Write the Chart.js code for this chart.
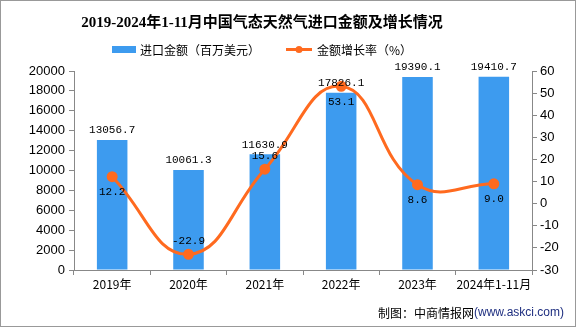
<!DOCTYPE html>
<html>
<head>
<meta charset="utf-8">
<script src="https://cdn.jsdelivr.net/npm/chart.js@4/dist/chart.umd.min.js"></script>
<style>
  html, body { margin: 0; padding: 0; background: #fff; }
  #wrap { position: relative; width: 576px; height: 327px; box-sizing: border-box; border: 1px solid #999; }
</style>
</head>
<body>
<div id="wrap"><canvas id="myChart" width="574" height="325"></canvas></div>
<script>
// Données
const categories = ["2019年", "2020年", "2021年", "2022年", "2023年", "2024年1-11月"];
const importValues = [13056.7, 10061.3, 11630.9, 17826.1, 19390.1, 19410.7];
const growthRates = [12.2, -22.9, 15.6, 53.1, 8.6, 9.0];
const leftTicks = [0, 2000, 4000, 6000, 8000, 10000, 12000, 14000, 16000, 18000, 20000];
const rightTicks = [-30, -20, -10, 0, 10, 20, 30, 40, 50, 60];

const title = "2019-2024年1-11月中国气态天然气进口金额及增长情况";
const barLabel = "进口金额（百万美元）";
const lineLabel = "金额增长率（%）";

const barColor = "#3d9bef";
const lineColor = "#ff6a1f";

// Titre, légende, étiquettes et source
const decorPlugin = {
  id: "decor",
  afterDatasetsDraw(chart) {
    const ctx = chart.ctx;
    ctx.save();
    // titre
    ctx.fillStyle = "#000";
    ctx.font = "bold 15px 'Liberation Serif', 'Noto Sans CJK SC'";
    ctx.textAlign = "center";
    ctx.textBaseline = "middle";
    ctx.fillText(title, 261, 22);

    // légende
    ctx.font = "12px 'Noto Sans CJK SC'";
    ctx.textAlign = "left";
    ctx.fillStyle = barColor;
    ctx.fillRect(111, 45, 24, 7);
    ctx.fillStyle = "#000";
    ctx.fillText(barLabel, 139, 49);
    ctx.strokeStyle = lineColor;
    ctx.lineWidth = 3;
    ctx.beginPath();
    ctx.moveTo(285, 48.5);
    ctx.lineTo(311, 48.5);
    ctx.stroke();
    ctx.fillStyle = lineColor;
    ctx.beginPath();
    ctx.arc(298, 48.5, 3.5, 0, Math.PI * 2);
    ctx.fill();
    ctx.fillStyle = "#000";
    ctx.fillText(lineLabel, 316, 49);

    // étiquettes des barres
    ctx.font = "11px 'Liberation Mono', monospace";
    ctx.textAlign = "center";
    ctx.textBaseline = "bottom";
    chart.getDatasetMeta(0).data.forEach((bar, i) => {
      ctx.fillText(importValues[i].toFixed(1), bar.x, bar.y - 4);
    });

    // étiquettes de la courbe
    const below = [true, false, false, true, true, true];
    chart.getDatasetMeta(1).data.forEach((pt, i) => {
      ctx.textBaseline = below[i] ? "top" : "bottom";
      const dy = below[i] ? 10 : -8;
      ctx.fillText(growthRates[i].toFixed(1), pt.x, pt.y + dy);
    });

    // source
    ctx.font = "12px 'Noto Sans CJK SC'";
    ctx.textAlign = "left";
    ctx.textBaseline = "middle";
    const src1 = "制图：中商情报网";
    ctx.fillStyle = "#000";
    ctx.fillText(src1, 377, 312);
    const w = ctx.measureText(src1).width;
    ctx.fillStyle = "#1f2f80";
    ctx.font = "12px 'Liberation Sans'";
    ctx.fillText("(www.askci.com)", 377 + w, 312);
    ctx.restore();
  },
};

const ctx = document.getElementById("myChart").getContext("2d");
window.myChart = new Chart(ctx, {
  data: {
    labels: categories,
    datasets: [
      {
        type: "bar",
        label: barLabel,
        data: importValues,
        backgroundColor: barColor,
        yAxisID: "y",
        barPercentage: 0.4,
        categoryPercentage: 1,
        order: 2,
      },
      {
        type: "line",
        label: lineLabel,
        data: growthRates,
        borderColor: lineColor,
        backgroundColor: lineColor,
        borderWidth: 3,
        pointRadius: 4,
        tension: 0.45,
        yAxisID: "y1",
        order: 1,
      },
    ],
  },
  options: {
    responsive: false,
    animation: false,
    elements: { line: { capBezierPoints: false } },
    layout: { padding: { top: 70, bottom: 36, left: 0, right: 0 } },
    plugins: { legend: { display: false }, tooltip: { enabled: false } },
    scales: {
      x: {
        offset: true,
        grid: { offset: true, drawOnChartArea: false, tickLength: 5, color: "#888" },
        border: { color: "#888" },
        ticks: { color: "#000", font: { family: "'Noto Sans CJK SC'", size: 12 }, padding: 2, maxRotation: 0, autoSkip: false },
        afterFit(s) { s.height = 20; },
      },
      y: {
        position: "left",
        min: 0,
        max: 20000,
        afterBuildTicks(s) { s.ticks = leftTicks.map((v) => ({ value: v })); },
        grid: { drawOnChartArea: false, tickLength: 5, color: "#888" },
        border: { color: "#888" },
        ticks: { color: "#000", font: { family: "'Liberation Sans'", size: 13 }, padding: 4, callback: (v) => String(v) },
        afterFit(s) { s.width = 73; },
      },
      y1: {
        position: "right",
        min: -30,
        max: 60,
        afterBuildTicks(s) { s.ticks = rightTicks.map((v) => ({ value: v })); },
        grid: { drawOnChartArea: false, tickLength: 5, color: "#888" },
        border: { color: "#888" },
        ticks: { color: "#000", font: { family: "'Liberation Sans'", size: 13 }, padding: 3, callback: (v) => String(v) },
        afterFit(s) { s.width = 43; },
      },
    },
  },
  plugins: [decorPlugin],
});
</script>
</body>
</html>
